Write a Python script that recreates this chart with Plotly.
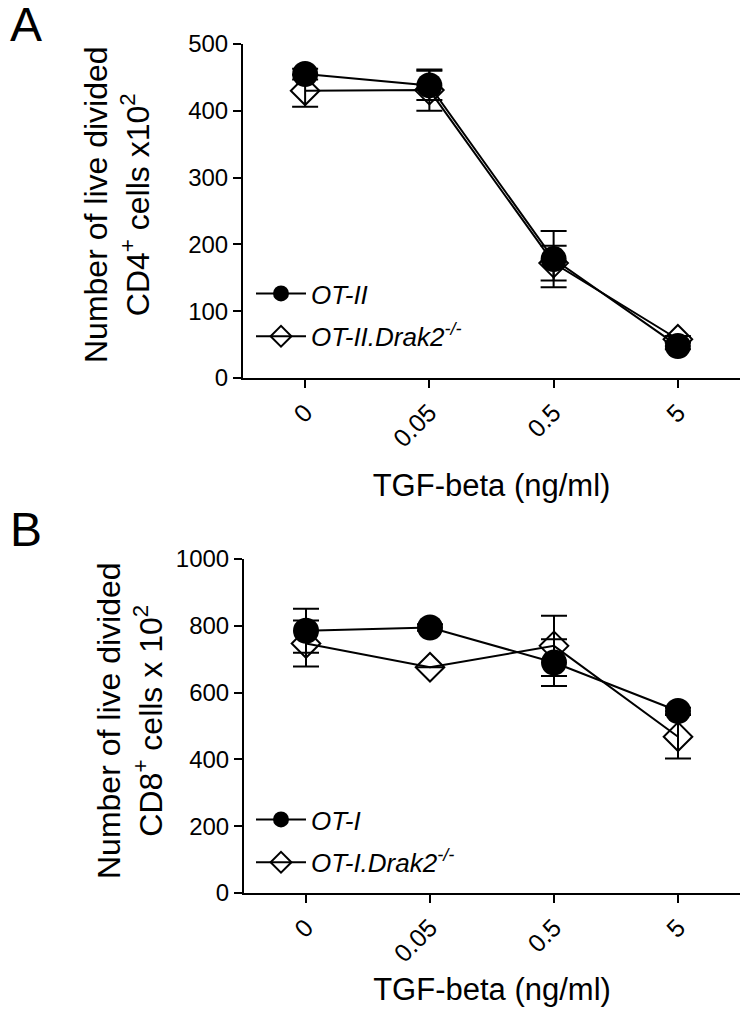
import plotly.graph_objects as go

# ---------------- data ----------------
doses = ["0", "0.05", "0.5", "5"]

# Panel A (CD4+, x10^2)
a_ot2 = [455, 438, 178, 48]
a_ot2_err = [8, 22, 42, 5]
a_ot2drak = [430, 431, 172, 58]
a_ot2drak_err = [24, 31, 26, 5]

# Panel B (CD8+, x10^2)
b_ot1 = [785, 795, 690, 545]
b_ot1_err = [66, 10, 70, 10]
b_ot1drak = [747, 676, 740, 468]
b_ot1drak_err = [69, 0, 90, 65]

names_a = ["<i>OT-II</i>", "<i>OT-II.Drak2<sup>-/-</sup></i>"]
names_b = ["<i>OT-I</i>", "<i>OT-I.Drak2<sup>-/-</sup></i>"]

FONT = "Liberation Sans, Arial, sans-serif"
W, H = 750, 1032
OFF = 8  # page body margin compensation

fig = go.Figure()

def add_pair(xa, ya, leg, circ, circ_err, dia, dia_err, names):
    # diamond (open) first, circles on top
    fig.add_trace(go.Scatter(
        x=doses, y=dia, name=names[1], mode="lines+markers",
        xaxis=xa, yaxis=ya, legend=leg, legendgroup=leg + "d", legendrank=2,
        line=dict(color="black", width=2),
        marker=dict(symbol="diamond-open", size=22, color="black", line=dict(width=2)),
        error_y=dict(type="data", array=dia_err, visible=True, color="black", thickness=2, width=13),
        cliponaxis=False,
    ))
    fig.add_trace(go.Scatter(
        x=doses, y=circ, name=names[0], mode="lines+markers",
        xaxis=xa, yaxis=ya, legend=leg, legendgroup=leg + "c", legendrank=1,
        line=dict(color="black", width=2),
        marker=dict(symbol="circle", size=26, color="black"),
        error_y=dict(type="data", array=circ_err, visible=True, color="black", thickness=2, width=13),
        cliponaxis=False,
    ))

add_pair("x", "y", "legend", a_ot2, a_ot2_err, a_ot2drak, a_ot2drak_err, names_a)
add_pair("x2", "y2", "legend2", b_ot1, b_ot1_err, b_ot1drak, b_ot1drak_err, names_b)

def px2x(p):
    return (p - OFF) / W

def px2y(p):
    return 1 - (p - OFF) / H

def xaxis_cfg(standoff):
    return dict(
        type="category", range=[-0.5, 3.5], showline=True, linecolor="black", linewidth=2,
        ticks="outside", ticklen=8, tickwidth=2, tickcolor="black", tickangle=-45, automargin=False,
        tickfont=dict(family=FONT, size=25, color="black"), showgrid=False, zeroline=False,
        title=dict(text="TGF-beta (ng/ml)", font=dict(family=FONT, size=31, color="black"), standoff=standoff),
    )

ycommon = dict(
    showline=True, linecolor="black", linewidth=2, ticks="outside", ticklen=8, tickwidth=2,
    tickcolor="black", tickfont=dict(family=FONT, size=24, color="black"), automargin=False,
    showgrid=False, zeroline=False,
)

legcommon = dict(xanchor="left", yanchor="top", font=dict(family=FONT, size=26, color="black"),
                 bgcolor="rgba(0,0,0,0)", traceorder="grouped", tracegroupgap=6,
                 itemsizing="trace", itemwidth=50)

fig.update_layout(
    width=W, height=H, margin=dict(l=0, r=0, t=0, b=0, pad=0, autoexpand=False),
    paper_bgcolor="white", plot_bgcolor="white",
    font=dict(family=FONT, color="black"),
    xaxis=dict(domain=[px2x(243), px2x(740)], anchor="y", **xaxis_cfg(23)),
    yaxis=dict(domain=[px2y(378), px2y(44)], anchor="x", range=[0, 500], tickvals=[0, 100, 200, 300, 400, 500], **ycommon),
    xaxis2=dict(domain=[px2x(244), px2x(740)], anchor="y2", **xaxis_cfg(12)),
    yaxis2=dict(domain=[px2y(893), px2y(559)], anchor="x2", range=[0, 1000], tickvals=[0, 200, 400, 600, 800, 1000], **ycommon),
    legend=dict(x=px2x(251), y=px2y(270), **legcommon),
    legend2=dict(x=px2x(251), y=px2y(796), **legcommon),
    annotations=[
        dict(text="A", x=px2x(8), y=px2y(-4), xref="paper", yref="paper", xanchor="left", yanchor="top",
             showarrow=False, font=dict(family=FONT, size=48, color="black")),
        dict(text="B", x=px2x(8), y=px2y(501), xref="paper", yref="paper", xanchor="left", yanchor="top",
             showarrow=False, font=dict(family=FONT, size=48, color="black")),
        dict(text="Number of live divided<br>CD4<sup>+</sup> cells x10<sup>2</sup>", textangle=-90,
             x=px2x(117), y=px2y(205), xref="paper", yref="paper", xanchor="center", yanchor="middle",
             showarrow=False, font=dict(family=FONT, size=32, color="black")),
        dict(text="Number of live divided<br>CD8<sup>+</sup> cells x 10<sup>2</sup>", textangle=-90,
             x=px2x(130), y=px2y(720), xref="paper", yref="paper", xanchor="center", yanchor="middle",
             showarrow=False, font=dict(family=FONT, size=32, color="black")),
    ],
)

fig.write_html("out.html")
